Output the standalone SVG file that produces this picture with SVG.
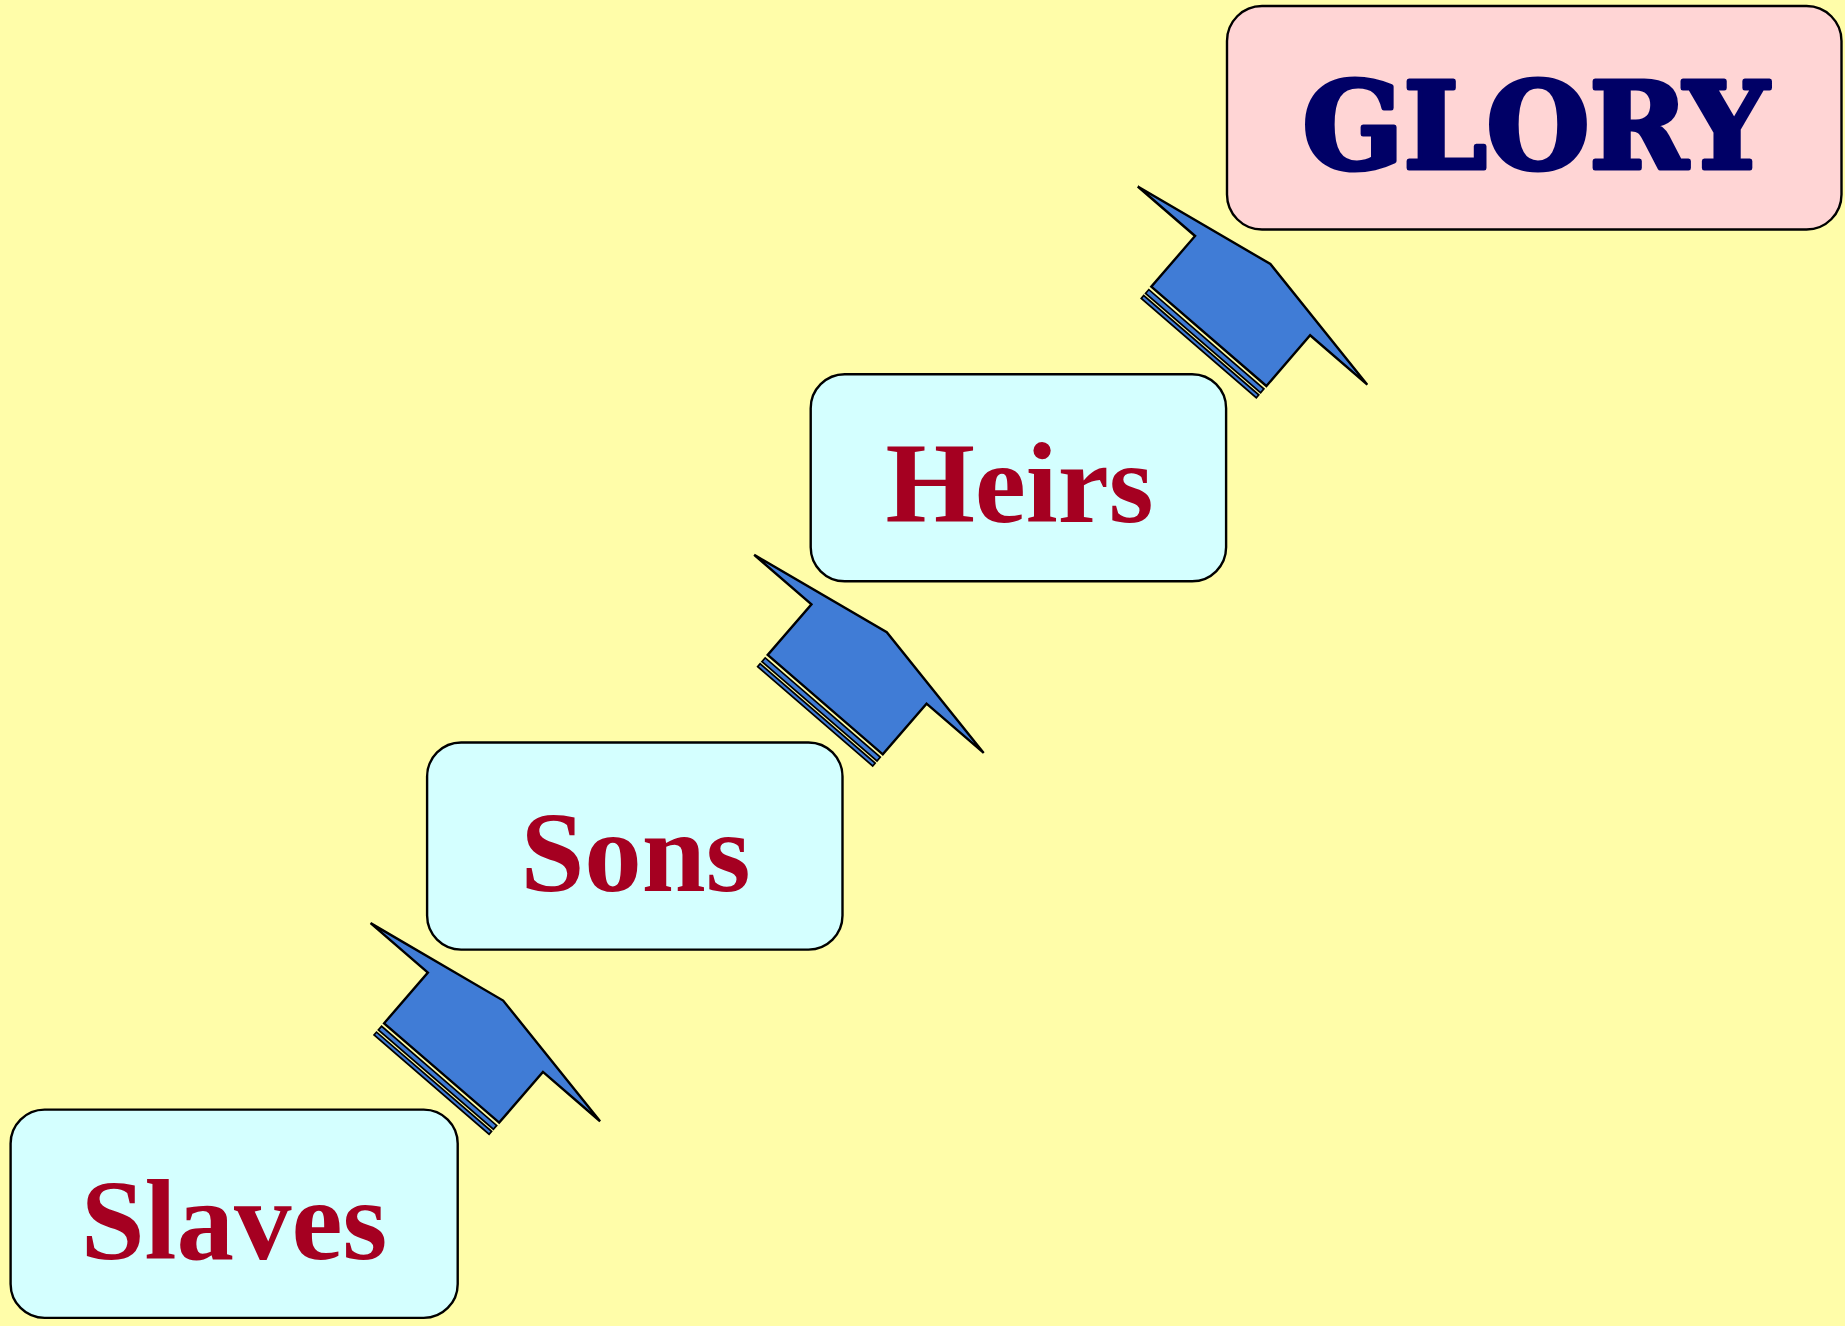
<svg xmlns="http://www.w3.org/2000/svg" width="1845" height="1326" viewBox="0 0 1845 1326">
<defs>
<style>
.box{stroke:#000;stroke-width:2.4}
.cyan{fill:#D4FFFF}
.pink{fill:#FFD5D5}
.lbl{font-family:"Liberation Serif","Times New Roman",serif;font-weight:bold;font-size:115px;fill:#A50021;text-anchor:middle}
.glory{font-family:"DejaVu Serif",serif;font-weight:bold;font-size:120px;fill:#000066;stroke:#000066;stroke-width:5;stroke-linejoin:round;text-anchor:middle}
.ab{fill:#407CD6;stroke:#000;stroke-width:2.4;stroke-linejoin:miter}
.st{fill:#407CD6;stroke:#000;stroke-width:1.7}
</style>
<g id="arrowShape">
<rect class="st" x="0" y="3.8" width="152" height="5"/>
<rect class="st" x="0" y="11.6" width="152" height="3.8"/>
<polygon class="ab" points="-75.7,-67 0,-67 0,0 152,0 152,-67 227.5,-67 75.3,-95"/>
</g>
</defs>
<rect x="0" y="0" width="1845" height="1326" fill="#FFFDA9"/>
<g id="connectors">
<use href="#arrowShape" transform="translate(384.1,1023.3) rotate(40.8)"/>
<use href="#arrowShape" transform="translate(767.7,655) rotate(40.8)"/>
<use href="#arrowShape" transform="translate(1151.3,286.7) rotate(40.8)"/>
</g>
<g id="slaves">
<rect class="box cyan" x="10.6" y="1109.6" width="447.1" height="208.3" rx="34"/>
<text class="lbl" x="234" y="1259">Slaves</text>
</g>
<g id="sons">
<rect class="box cyan" x="427.1" y="742.5" width="415.4" height="207.1" rx="34"/>
<text class="lbl" x="635.5" y="890.5">Sons</text>
</g>
<g id="heirs">
<rect class="box cyan" x="810.7" y="374.2" width="415.4" height="207.1" rx="34"/>
<text class="lbl" x="1019.5" y="522">Heirs</text>
</g>
<g id="glory">
<rect class="box pink" x="1227" y="6" width="614.5" height="223.5" rx="35"/>
<text class="glory" x="1535.5" y="168" textLength="466" lengthAdjust="spacingAndGlyphs">GLORY</text>
</g>
</svg>
